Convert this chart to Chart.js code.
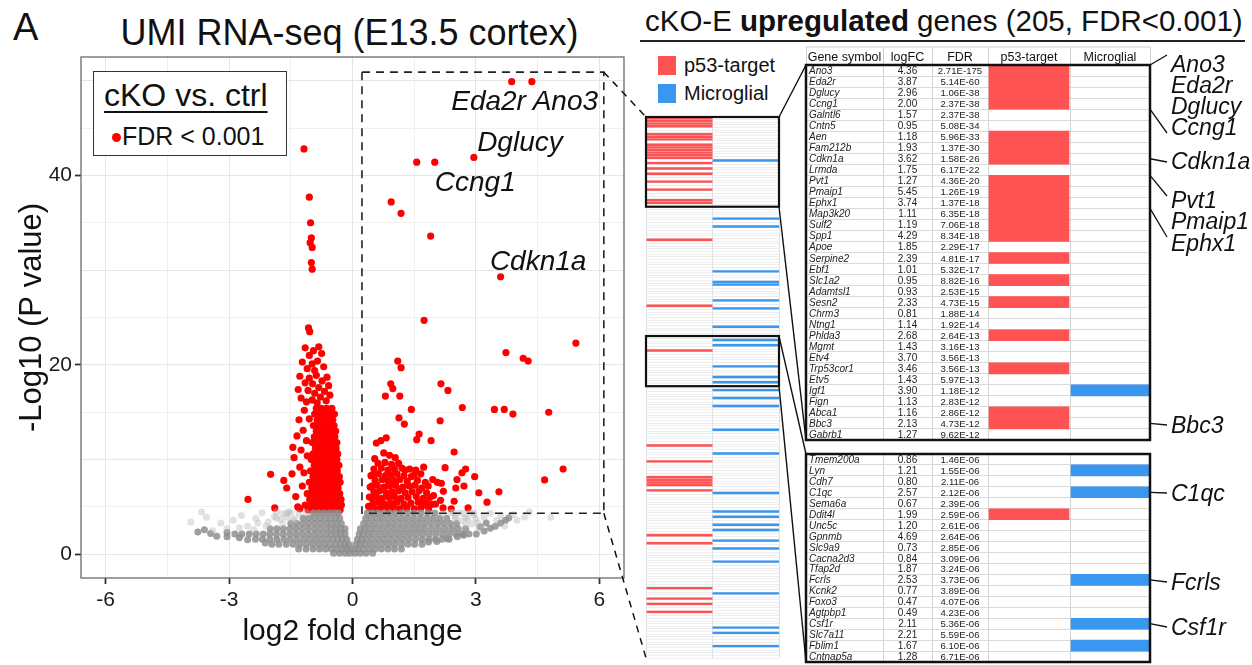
<!DOCTYPE html>
<html><head><meta charset="utf-8">
<script src="https://cdn.jsdelivr.net/npm/chart.js@4.4.1/dist/chart.umd.min.js"></script>
<style>
html,body{margin:0;padding:0;background:#fff;}
body{width:1252px;height:665px;position:relative;overflow:hidden;font-family:"Liberation Sans",Arial,sans-serif;color:#111;}
.abs{position:absolute;white-space:nowrap;}
canvas{position:absolute;}
</style></head><body>

<script>
// ================= DATA =================
// Volcano plot axis ticks
const xTickValues = [-6, -4.5, -3, -1.5, 0, 1.5, 3, 4.5, 6];
const xTickLabels = ['-6', '', '-3', '', '0', '', '3', '', '6'];
const yTickValues = [0, 5, 10, 15, 20, 25, 30, 35, 40, 45, 50];
const yTickLabels = ['0', '', '', '', '20', '', '', '', '40', '', ''];

// significant (FDR < 0.001) genes, up-regulated side: [log2FC, -log10 P]
const sigUp = [
 [4.36,49.9],[3.87,49.9],[2.95,41.9],[1.56,41.4],[2.00,41.4],
 [0.94,37.2],[1.18,36.0],[1.90,33.6],[3.60,29.3],[1.74,24.7],
 [5.43,22.3],[3.73,21.3],[4.15,20.7],[4.27,20.4],[1.10,20.4],[1.18,19.7],
 [2.15,18.0],[0.93,18.0],[0.98,17.5],[0.80,16.7],[1.15,16.7],[2.32,17.3],
 [1.43,15.3],[2.67,15.5],[3.45,15.3],[3.69,15.3],[3.90,14.8],[4.77,15.0],
 [1.13,14.4],[1.26,13.75],[2.13,14.1],[1.62,12.7],[1.56,12.1],[1.91,12.0],
 [2.47,10.8],[0.58,11.75],[0.69,12.0],[0.82,12.3],
 [5.12,9.0],[4.67,7.85],[3.56,6.6],[3.27,5.5],[3.07,6.5],[2.81,4.9],[2.97,8.2],
 [2.75,9.0],[2.66,8.6],[2.54,7.9],[2.51,7.0],[2.71,7.2],[2.47,5.6],[2.25,9.15],
 [2.16,7.5],[2.21,6.65],[2.06,7.6],[1.95,7.9],[1.84,7.2],[1.73,9.2],[1.54,8.9],
 [1.43,8.2],[1.28,8.9],[1.04,10.2],[0.90,10.45],[0.76,10.7],[0.54,10.1],[0.45,8.3],
 [0.43,7.1],[0.41,6.05],[0.39,5.07],[1.71,5.17],[1.93,5.28],[2.14,5.7],[1.97,6.2],
 [0.62,9.6],[0.79,9.7],[0.95,9.5],[1.12,9.6],
 [0.52,9.0],[0.70,9.1],[0.86,8.9],[1.02,9.0],[1.20,9.1],[1.39,9.0],
 [0.49,8.4],[0.63,8.5],[0.80,8.3],[0.93,8.4],[1.08,8.5],[1.25,8.3],[1.50,8.4],[1.66,8.5],
 [0.55,7.8],[0.72,7.9],[0.87,7.7],[1.00,7.8],[1.15,7.9],[1.33,7.7],[1.58,7.8],[1.77,7.6],
 [0.47,7.2],[0.60,7.3],[0.76,7.1],[0.90,7.2],[1.05,7.3],[1.22,7.1],[1.38,7.2],[1.52,7.3],[1.68,7.0],
 [0.52,6.6],[0.66,6.7],[0.82,6.5],[0.97,6.6],[1.12,6.7],[1.28,6.5],[1.45,6.6],[1.62,6.7],[1.80,6.5],
 [0.45,6.0],[0.58,6.1],[0.72,5.9],[0.88,6.0],[1.02,6.1],[1.18,5.9],[1.35,6.0],[1.55,6.1],[1.72,5.9],[1.88,6.0],
 [0.50,5.4],[0.64,5.5],[0.78,5.3],[0.93,5.4],[1.08,5.5],[1.25,5.3],[1.42,5.4],[1.60,5.5],[1.80,5.4],[2.02,5.3],
 [0.42,4.9],[0.56,4.8],[0.70,4.9],[0.86,4.8],[1.00,4.9],[1.15,4.8],[1.32,4.9],[1.50,4.8],[1.66,4.9],[1.85,4.8],[2.20,4.9],[2.40,4.8]
];
// significant genes, down-regulated side (scattered)
const sigDown = [
 [-1.18,42.8],[-1.05,37.7],[-1.02,35.0],[-1.00,33.4],[-1.03,32.9],[-0.98,32.4],[-1.00,30.8],[-0.98,30.1],[-1.07,23.9],[-1.04,23.5],
 [-1.15,21.8],[-0.95,21.5],[-0.82,21.9],[-1.05,21.0],[-0.75,21.2],[-1.22,20.3],[-0.98,20.1],[-0.85,20.4],[-0.70,19.8],[-1.10,19.6],
 [-0.92,19.4],[-1.28,18.8],[-1.05,18.6],[-0.88,18.9],[-0.74,18.3],[-0.62,18.7],[-0.97,18.0],[-1.15,18.1],[-1.32,17.4],[-0.82,17.6],
 [-0.68,17.2],[-0.92,17.0],[-1.08,17.3],[-0.58,17.8],[-1.25,16.5],[-0.98,16.3],[-0.78,16.6],[-0.64,16.2],[-0.86,16.0],[-0.55,16.8],[-1.12,16.1],
 [-1.99,8.44],[-2.54,5.8],[-1.89,4.9],[-1.67,7.8],[-1.60,7.0],[-1.47,8.5],[-1.35,12.5],[-1.30,14.2],[-1.42,10.2],[-1.25,11.0],
 [-1.38,6.1],[-1.28,9.2],[-1.20,13.1],[-1.33,5.0],[-1.22,7.2],[-1.17,15.2],[-1.12,12.0],[-1.28,4.8],[-1.45,11.3],[-1.18,8.6],[-1.10,10.4],[-1.05,14.3]
];
// significant genes, dense down-regulated core: [ -log10 P, [log2FC ...] ]
const sigDownCoreRows = [
 [15.4,[-0.88,-0.76,-0.63,-0.50]],
 [14.8,[-0.92,-0.80,-0.68,-0.55,-0.44]],
 [14.2,[-0.86,-0.73,-0.60,-0.48]],
 [13.6,[-0.95,-0.82,-0.70,-0.57,-0.45]],
 [13.0,[-0.88,-0.76,-0.64,-0.52,-0.41]],
 [12.4,[-0.93,-0.80,-0.67,-0.55,-0.43]],
 [11.8,[-0.98,-0.85,-0.72,-0.60,-0.47,-0.38]],
 [11.2,[-0.90,-0.78,-0.65,-0.52,-0.40]],
 [10.6,[-0.96,-0.83,-0.70,-0.58,-0.45,-0.36]],
 [10.0,[-1.00,-0.88,-0.75,-0.62,-0.50,-0.38]],
 [9.4,[-0.93,-0.80,-0.68,-0.55,-0.42,-0.33]],
 [8.8,[-1.02,-0.89,-0.76,-0.63,-0.50,-0.37]],
 [8.2,[-0.96,-0.83,-0.70,-0.57,-0.44,-0.32]],
 [7.6,[-1.05,-0.92,-0.79,-0.66,-0.53,-0.40,-0.30]],
 [7.0,[-0.99,-0.86,-0.73,-0.60,-0.47,-0.35]],
 [6.4,[-1.10,-0.97,-0.84,-0.71,-0.58,-0.45,-0.31]],
 [5.8,[-1.04,-0.91,-0.78,-0.65,-0.52,-0.39,-0.28]],
 [5.2,[-1.15,-1.01,-0.88,-0.75,-0.62,-0.49,-0.36,-0.27]],
 [4.7,[-1.08,-0.95,-0.82,-0.69,-0.56,-0.43,-0.30]]
];
// non-significant genes, dense cloud: [ -log10 P, [log2FC ...] ]
const nsDenseRows = [
 [4.35,[-0.95,-0.82,-0.69,-0.56,-0.44,-0.34,0.36,0.49,0.62,0.76,0.90,1.04,1.19,1.34,1.50,1.66,1.83,2.00]],
 [3.8,[-1.20,-1.06,-0.92,-0.79,-0.66,-0.53,-0.41,-0.31,0.32,0.45,0.59,0.73,0.88,1.03,1.18,1.33,1.48,1.64,1.80,1.96,2.12,2.29]],
 [3.25,[-1.50,-1.35,-1.20,-1.06,-0.92,-0.78,-0.64,-0.51,-0.39,-0.27,0.27,0.39,0.53,0.68,0.83,0.98,1.13,1.28,1.43,1.58,1.73,1.89,2.05,2.21,2.37,2.53]],
 [2.7,[-2.00,-1.84,-1.68,-1.52,-1.37,-1.22,-1.07,-0.92,-0.78,-0.64,-0.51,-0.39,-0.28,-0.18,0.19,0.30,0.43,0.57,0.72,0.87,1.02,1.17,1.32,1.47,1.62,1.77,1.93,2.09,2.25,2.41,2.57,2.75]],
 [2.15,[-2.86,-2.69,-2.51,-2.34,-2.17,-2.01,-1.85,-1.69,-1.53,-1.38,-1.23,-1.08,-0.93,-0.79,-0.65,-0.52,-0.40,-0.29,-0.18,0.16,0.26,0.38,0.51,0.66,0.81,0.96,1.11,1.26,1.41,1.56,1.71,1.87,2.03,2.19,2.35,2.51,2.67,2.83,3.01]],
 [1.6,[-2.36,-2.19,-2.01,-1.84,-1.67,-1.51,-1.35,-1.19,-1.04,-0.89,-0.75,-0.61,-0.48,-0.36,-0.25,-0.14,0.12,0.22,0.34,0.47,0.62,0.77,0.92,1.07,1.22,1.37,1.53,1.69,1.85,2.01,2.17,2.35]],
 [1.05,[-1.96,-1.79,-1.61,-1.44,-1.28,-1.12,-0.97,-0.82,-0.68,-0.54,-0.41,-0.29,-0.18,-0.09,0.08,0.18,0.30,0.44,0.58,0.73,0.88,1.03,1.19,1.35,1.51,1.69]],
 [0.55,[-1.31,-1.13,-0.96,-0.80,-0.65,-0.51,-0.38,-0.26,-0.15,-0.05,0.05,0.15,0.27,0.41,0.55,0.70,0.86,1.02,1.19]],
 [0.1,[-0.46,-0.31,-0.18,-0.07,0.06,0.19,0.33,0.49]]
];
// non-significant genes along the outer edge of the cloud
const nsEdge = [
 [-2.12,1.2],[-2.55,1.55],[-2.75,1.75],[-3.05,1.85],[-3.3,1.9],[-3.45,2.2],[-3.6,2.6],[-3.76,2.35],[-3.05,2.3],
 [3.2,2.45],[3.35,2.75],[3.47,2.95],[3.6,3.3],[3.72,3.6],[3.8,3.85],[3.1,2.9],[3.25,3.3],[2.55,1.85],[2.7,2.0],
 [1.85,1.3],[2.05,1.35],[2.3,1.65]
];
// non-significant genes, sparse halo
const nsLight = [
 [-1.70,4.3],[-1.50,4.35],[-1.30,4.3],[-1.12,4.4],[2.20,4.3],[2.45,4.35],[2.70,4.3],[2.95,4.4],
 [-1.85,3.8],[-1.60,3.85],[-1.40,3.75],[2.50,3.8],[2.75,3.85],[3.00,3.75],
 [-3.93,3.4],[-3.67,4.46],[-3.55,3.9],[-3.2,3.3],[-2.9,3.6],[-2.7,4.1],[-2.55,3.0],[-2.35,3.8],[-2.2,4.4],
 [-2.05,3.4],[-1.9,4.0],[-1.75,3.7],[-1.6,4.3],[-2.4,2.6],[-2.75,2.8],[-3.05,2.7],[-3.4,2.5],[-1.55,4.5],
 [-1.85,4.5],[-2.1,3.0],[-1.7,3.2],[-2.3,3.3],[-1.45,3.6],
 [3.05,3.3],[3.2,3.9],[3.35,4.3],[3.6,4.1],[3.9,4.2],[4.18,3.94],[4.3,4.5],[4.82,3.9],[2.8,3.7],[2.95,4.2],
 [2.6,4.4],[2.75,3.1],[3.7,3.0],[4.0,3.6],[2.5,4.0],[3.5,3.6],[2.9,3.2],[3.1,2.7],[2.65,3.55],[2.85,4.4],[2.4,4.45]
];
// labelled genes on the volcano plot
const volcanoLabels = [
 {text:'Eda2r Ano3', x:5.97, y:46.9, anchor:'end'},
 {text:'Dglucy', x:3.03, y:42.6, anchor:'start'},
 {text:'Ccng1', x:2.0, y:38.4, anchor:'start'},
 {text:'Cdkn1a', x:3.34, y:30.0, anchor:'start'}
];
// zoomed region (dashed box) in data units
const zoomBox = {x0:0.23, x1:6.11, y0:4.33, y1:50.9};

// Strip of all 205 up-regulated genes (rank order, 0 = top)
const stripCount = 205;
const stripP53Rows = [0,1,2,3,6,7,8,10,11,12,13,14,15,17,19,21,24,27,31,32,46,71,88,124,130,136,137,138,139,141,158,161,178,182,184,187];
const stripMicroRows = [16,38,41,58,62,63,69,72,79,84,86,94,98,100,103,106,109,118,127,142,149,151,154,156,160,163,168,180,193,195,200];
const stripBoxes = [[0,33],[83,101]];

// Tables
const tableHeaders = ['Gene symbol','logFC','FDR','p53-target','Microglial'];
const upperGenes = ['Ano3','Eda2r','Dglucy','Ccng1','Galntl6','Cntn5','Aen','Fam212b','Cdkn1a','Lrmda','Pvt1','Pmaip1','Ephx1','Map3k20','Sulf2','Spp1','Apoe','Serpine2','Ebf1','Slc1a2','Adamtsl1','Sesn2','Chrm3','Ntng1','Phlda3','Mgmt','Etv4','Trp53cor1','Etv5','Igf1','Fign','Abca1','Bbc3','Gabrb1'];
const upperLogFC = ['4.36','3.87','2.96','2.00','1.57','0.95','1.18','1.93','3.62','1.75','1.27','5.45','3.74','1.11','1.19','4.29','1.85','2.39','1.01','0.95','0.93','2.33','0.81','1.14','2.68','1.43','3.70','3.46','1.43','3.90','1.13','1.16','2.13','1.27'];
const upperFDR = ['2.71E-175','5.14E-60','1.06E-38','2.37E-38','2.37E-38','5.08E-34','5.96E-33','1.37E-30','1.58E-26','6.17E-22','4.36E-20','1.26E-19','1.37E-18','6.35E-18','7.06E-18','8.34E-18','2.29E-17','4.81E-17','5.32E-17','8.82E-16','2.53E-15','4.73E-15','1.88E-14','1.92E-14','2.64E-13','3.16E-13','3.56E-13','3.56E-13','5.97E-13','1.18E-12','2.83E-12','2.86E-12','4.73E-12','9.62E-12'];
const upperP53 = [0,1,2,3,6,7,8,10,11,12,13,14,15,17,19,21,24,27,31,32];
const upperMicro = [29];
const lowerGenes = ['Tmem200a','Lyn','Cdh7','C1qc','Sema6a','Ddit4l','Unc5c','Gpnmb','Slc9a9','Cacna2d3','Tfap2d','Fcrls','Kcnk2','Foxo3','Agtpbp1','Csf1r','Slc7a11','Fblim1','Cntnap5a'];
const lowerLogFC = ['0.86','1.21','0.80','2.57','0.67','1.99','1.20','4.69','0.73','0.84','1.87','2.53','0.77','0.47','0.49','2.11','2.21','1.67','1.28'];
const lowerFDR = ['1.46E-06','1.55E-06','2.11E-06','2.12E-06','2.39E-06','2.59E-06','2.61E-06','2.64E-06','2.85E-06','3.09E-06','3.24E-06','3.73E-06','3.89E-06','4.07E-06','4.23E-06','5.36E-06','5.59E-06','6.10E-06','6.71E-06'];
const lowerP53 = [5];
const lowerMicro = [1,3,11,15,17];

// Callout labels beside the tables
const upperCallouts = ['Ano3','Eda2r','Dglucy','Ccng1','Cdkn1a','Pvt1','Pmaip1','Ephx1','Bbc3'];
const lowerCallouts = ['C1qc','Fcrls','Csf1r'];
</script>

<div class="abs" style="left:13px;top:8px;font-size:38px;line-height:38px;">A</div>
<div class="abs" style="left:78px;width:543px;top:15px;text-align:center;font-size:36px;line-height:36px;">UMI RNA-seq (E13.5 cortex)</div>
<div class="abs" style="left:645px;top:6px;font-size:29.5px;line-height:29.5px;">cKO-E <b>upregulated</b> genes (205, FDR&lt;0.001)</div>
<div class="abs" style="left:640px;top:40px;width:605px;height:1.5px;background:#222;"></div>

<canvas id="volcano" width="640" height="665" style="left:0;top:0;"></canvas>

<div class="abs" style="left:93px;top:71px;width:194px;height:85px;border:1.5px solid #333;box-sizing:border-box;background:#fff;">
  <div class="abs" style="left:10px;top:7px;font-size:32px;line-height:32px;text-decoration:underline;text-decoration-thickness:2px;text-underline-offset:5px;">cKO vs. ctrl</div>
  <div class="abs" style="left:18px;top:61px;width:9px;height:9px;border-radius:50%;background:#ff0000;"></div>
  <div class="abs" style="left:28px;top:52px;font-size:25px;line-height:25px;">FDR &lt; 0.001</div>
</div>

<div class="abs" style="left:658px;top:56px;width:18px;height:19px;background:#ff5252;"></div>
<div class="abs" style="left:684px;top:55px;font-size:20px;line-height:20px;">p53-target</div>
<div class="abs" style="left:658px;top:84px;width:18px;height:19px;background:#3a97ef;"></div>
<div class="abs" style="left:684px;top:83px;font-size:20px;line-height:20px;">Microglial</div>

<canvas id="strip" width="139" height="547" style="left:643px;top:114px;"></canvas>
<canvas id="upper" width="356" height="400" style="left:800px;top:45px;"></canvas>
<canvas id="lower" width="356" height="216" style="left:800px;top:449px;"></canvas>

<script>
const FONT = '"Liberation Sans", Arial, sans-serif';
const RED = '#ff5252', BLUE = '#3a97ef';
const tableColEdges = [0, 77, 126, 182, 264, 344];
const OFF = {volcano:{left:0, top:0}, strip:{left:643, top:114}, upper:{left:800, top:45}, lower:{left:800, top:449}};

const pts = arr => arr.map(([x, y]) => ({x, y}));
const rowsToPts = rows => rows.flatMap(([y, xs]) => xs.map(x => ({x, y})));

// ---------- Volcano ----------
const volcanoPlugin = {
  id: 'volcanoDeco',
  afterDraw(chart) {
    const {ctx, chartArea: a, scales: {x, y}} = chart;
    ctx.save();
    ctx.strokeStyle = '#6b6b6b'; ctx.lineWidth = 1.3;
    ctx.strokeRect(a.left, a.top, a.right - a.left, a.bottom - a.top);
    ctx.setLineDash([8, 6]); ctx.strokeStyle = '#222'; ctx.lineWidth = 1.6;
    ctx.strokeRect(x.getPixelForValue(zoomBox.x0), y.getPixelForValue(zoomBox.y1),
      x.getPixelForValue(zoomBox.x1) - x.getPixelForValue(zoomBox.x0),
      y.getPixelForValue(zoomBox.y0) - y.getPixelForValue(zoomBox.y1));
    ctx.restore();
  }
};
const volcano = new Chart(document.getElementById('volcano'), {
  type: 'scatter',
  data: {datasets: [
    {label: 'ns halo', data: pts(nsLight), backgroundColor: 'rgba(180,180,180,0.4)', borderWidth: 0, pointRadius: 3.5},
    {label: 'ns', data: rowsToPts(nsDenseRows).concat(pts(nsEdge)), backgroundColor: 'rgba(142,142,142,0.85)', borderWidth: 0, pointRadius: 3.5},
    {label: 'FDR < 0.001', data: pts(sigDown).concat(rowsToPts(sigDownCoreRows), pts(sigUp)), backgroundColor: '#ff0000', borderWidth: 0, pointRadius: 3.6}
  ]},
  options: {
    responsive: false, animation: false, events: [],
    layout: {padding: {top: 57, right: 16, left: 0, bottom: 0}},
    plugins: {legend: {display: false}, tooltip: {enabled: false}},
    scales: {
      x: {
        type: 'linear', min: -6.6, max: 6.6,
        afterBuildTicks(s) { s.ticks = xTickValues.map(v => ({value: v})); },
        afterFit(s) { s.height = 87; },
        ticks: {autoSkip: false, maxRotation: 0, padding: 4, color: '#1a1a1a', font: {size: 21, family: FONT},
          callback: (v, i) => xTickLabels[i]},
        grid: {color: c => (xTickLabels[c.index] ? '#e6e6e6' : '#f0f0f0'), lineWidth: 1, tickLength: 6,
          tickColor: c => (xTickLabels[c.index] ? '#333' : 'rgba(0,0,0,0)'), tickWidth: 1.8},
        border: {display: false},
        title: {display: true, text: 'log2 fold change', color: '#111', font: {size: 30, family: FONT}, padding: {top: 0, bottom: 15}}
      },
      y: {
        type: 'linear', min: -2.5, max: 52.5,
        afterBuildTicks(s) { s.ticks = yTickValues.map(v => ({value: v})); },
        afterFit(s) { s.width = 81; },
        ticks: {autoSkip: false, padding: 3, color: '#1a1a1a', font: {size: 21, family: FONT},
          callback: (v, i) => yTickLabels[i]},
        grid: {color: c => (yTickValues[c.index] % 10 === 0 ? '#e6e6e6' : '#f0f0f0'), lineWidth: 1, tickLength: 6,
          tickColor: c => (yTickLabels[c.index] ? '#333' : 'rgba(0,0,0,0)'), tickWidth: 1.8},
        border: {display: false},
        title: {display: true, text: '-Log10 (P value)', color: '#111', font: {size: 31, family: FONT}, padding: {top: 14, bottom: 0}}
      }
    }
  },
  plugins: [volcanoPlugin]
});

// ---------- Strip ----------
const stripRanks = Array.from({length: stripCount}, (_, i) => String(i + 1));
const stripPlugin = {
  id: 'stripBoxes',
  afterDraw(chart) {
    const {ctx, chartArea: a, scales: {y}} = chart;
    const h = (y.bottom - y.top) / stripCount;
    ctx.save(); ctx.strokeStyle = '#111'; ctx.lineWidth = 2.2;
    stripBoxes.forEach(([r0, r1]) => {
      const t = y.getPixelForValue(r0) - h / 2, b = y.getPixelForValue(r1) + h / 2;
      ctx.strokeRect(a.left, t, a.right - a.left, b - t);
    });
    ctx.restore();
  }
};
const strip = new Chart(document.getElementById('strip'), {
  type: 'bar',
  data: {labels: stripRanks, datasets: [
    {label: 'p53-target', data: stripRanks.map((_, i) => stripP53Rows.includes(i) ? [0, 1] : null), backgroundColor: RED, grouped: false, categoryPercentage: 1, barPercentage: 0.9},
    {label: 'Microglial', data: stripRanks.map((_, i) => stripMicroRows.includes(i) ? [1, 2] : null), backgroundColor: BLUE, grouped: false, categoryPercentage: 1, barPercentage: 0.9}
  ]},
  options: {
    indexAxis: 'y', responsive: false, animation: false, events: [],
    layout: {padding: 3},
    plugins: {legend: {display: false}, tooltip: {enabled: false}},
    scales: {
      x: {type: 'linear', min: 0, max: 2, afterBuildTicks(s) { s.ticks = [{value: 0}, {value: 1}, {value: 2}]; },
        afterFit(s) { s.height = 0; }, ticks: {display: false}, grid: {color: '#dde2e8', drawTicks: false}, border: {display: false}},
      y: {type: 'category', afterFit(s) { s.width = 0; }, ticks: {display: false, autoSkip: false},
        grid: {offset: true, color: '#e6e6e6', lineWidth: 0.7, drawTicks: false}, border: {display: false}}
    }
  },
  plugins: [stripPlugin]
});

// ---------- Tables ----------
function makeTable(id, genes, p53, micro, padding, withHeader) {
  const plugin = {
    id: 'tableDeco' + id,
    afterDraw(chart) {
      const {ctx, chartArea: a, scales: {x}} = chart;
      ctx.save();
      if (withHeader) {
        ctx.strokeStyle = '#cfcfcf'; ctx.lineWidth = 1;
        ctx.beginPath(); ctx.moveTo(a.left, a.top - 18); ctx.lineTo(a.right, a.top - 18); ctx.stroke();
        tableColEdges.forEach(v => { const px = Math.round(x.getPixelForValue(v)) + 0.5; ctx.beginPath(); ctx.moveTo(px, a.top - 18); ctx.lineTo(px, a.top); ctx.stroke(); });
      }
      ctx.strokeStyle = '#111'; ctx.lineWidth = 2.5;
      ctx.strokeRect(a.left, a.top, a.right - a.left, a.bottom - a.top);
      ctx.restore();
    }
  };
  return new Chart(document.getElementById(id), {
    type: 'bar',
    data: {labels: genes, datasets: [
      {label: 'p53-target', data: genes.map((_, i) => p53.includes(i) ? [tableColEdges[3] + 1, tableColEdges[4] - 1] : null), backgroundColor: RED, grouped: false, categoryPercentage: 1, barPercentage: 1},
      {label: 'Microglial', data: genes.map((_, i) => micro.includes(i) ? [tableColEdges[4] + 1, tableColEdges[5]] : null), backgroundColor: BLUE, grouped: false, categoryPercentage: 1, barPercentage: 1}
    ]},
    options: {
      indexAxis: 'y', responsive: false, animation: false, events: [],
      layout: {padding: padding},
      plugins: {legend: {display: false}, tooltip: {enabled: false}},
      scales: {
        x: {type: 'linear', min: 0, max: 344, afterBuildTicks(s) { s.ticks = tableColEdges.map(v => ({value: v})); },
          afterFit(s) { s.height = 0; }, ticks: {display: false}, grid: {color: '#d2d2d2', drawTicks: false}, border: {display: false}},
        y: {type: 'category', afterFit(s) { s.width = 0; }, ticks: {display: false, autoSkip: false},
          grid: {offset: true, color: '#d9d9d9', lineWidth: 1, drawTicks: false}, border: {display: false}}
      }
    },
    plugins: [plugin]
  });
}
const upper = makeTable('upper', upperGenes, upperP53, upperMicro, {left: 6, right: 6, top: 20, bottom: 5}, true);
const lower = makeTable('lower', lowerGenes, lowerP53, lowerMicro, {left: 6, right: 6, top: 5, bottom: 3}, false);

// ---------- SVG overlay: text and connectors ----------
const NS = 'http://www.w3.org/2000/svg';
const svg = document.createElementNS(NS, 'svg');
svg.setAttribute('width', 1252); svg.setAttribute('height', 665);
svg.style.cssText = 'position:absolute;left:0;top:0;pointer-events:none;';
document.body.appendChild(svg);
function line(x1, y1, x2, y2, w, dash) {
  const l = document.createElementNS(NS, 'line');
  l.setAttribute('x1', x1); l.setAttribute('y1', y1); l.setAttribute('x2', x2); l.setAttribute('y2', y2);
  l.setAttribute('stroke', '#111'); l.setAttribute('stroke-width', w);
  if (dash) l.setAttribute('stroke-dasharray', dash);
  svg.appendChild(l);
}
function text(t, x, y, size, opts = {}) {
  const e = document.createElementNS(NS, 'text');
  e.setAttribute('x', x); e.setAttribute('y', y);
  e.setAttribute('font-family', 'Liberation Sans, Arial, sans-serif');
  e.setAttribute('font-size', size);
  e.setAttribute('fill', opts.fill || '#111');
  if (opts.italic) e.setAttribute('font-style', 'italic');
  if (opts.anchor) e.setAttribute('text-anchor', opts.anchor);
  e.textContent = t; svg.appendChild(e);
}

// volcano gene labels
volcanoLabels.forEach(l => {
  text(l.text, OFF.volcano.left + volcano.scales.x.getPixelForValue(l.x), OFF.volcano.top + volcano.scales.y.getPixelForValue(l.y), 28, {italic: true, anchor: l.anchor});
});

// strip geometry
const sy = strip.scales.y, sH = (sy.bottom - sy.top) / stripCount;
const stripLeft = OFF.strip.left + strip.chartArea.left, stripRight = OFF.strip.left + strip.chartArea.right;
const stripRowTop = r => OFF.strip.top + sy.getPixelForValue(r) - sH / 2;
const stripRowBottom = r => OFF.strip.top + sy.getPixelForValue(r) + sH / 2;

// dashed connectors volcano -> strip
const bx = OFF.volcano.left + volcano.scales.x.getPixelForValue(zoomBox.x1);
line(bx, OFF.volcano.top + volcano.scales.y.getPixelForValue(zoomBox.y1), stripLeft, stripRowTop(0), 1.5, '7 6');
line(bx, OFF.volcano.top + volcano.scales.y.getPixelForValue(zoomBox.y0), stripLeft, stripRowBottom(stripCount - 1), 1.5, '7 6');

// table texts
function tableText(chart, off, genes, logfc, fdr, withHeader) {
  const {x, y} = chart.scales;
  const colC = k => off.left + x.getPixelForValue((tableColEdges[k] + tableColEdges[k + 1]) / 2);
  if (withHeader) tableHeaders.forEach((h, k) => text(h, colC(k), off.top + chart.chartArea.top - 4.5, 12.5, {anchor: 'middle'}));
  genes.forEach((g, i) => {
    const cy = off.top + y.getPixelForValue(i) + 3.5;
    text(g, off.left + x.getPixelForValue(0) + 3, cy, 10, {italic: true, fill: '#222'});
    text(logfc[i], colC(1), cy, 10, {anchor: 'middle', fill: '#222'});
    text(fdr[i], colC(2), cy, 9.6, {anchor: 'middle', fill: '#222'});
  });
}
tableText(upper, OFF.upper, upperGenes, upperLogFC, upperFDR, true);
tableText(lower, OFF.lower, lowerGenes, lowerLogFC, lowerFDR, false);

// strip -> table connectors
const uA = upper.chartArea, lA = lower.chartArea;
const tLeft = OFF.upper.left + uA.left, tRight = OFF.upper.left + uA.right;
line(stripRight, stripRowTop(stripBoxes[0][0]), tLeft, OFF.upper.top + uA.top, 1.4);
line(stripRight, stripRowBottom(stripBoxes[0][1]), tLeft, OFF.upper.top + uA.bottom, 1.4);
line(stripRight, stripRowTop(stripBoxes[1][0]), tLeft, OFF.lower.top + lA.top, 1.4);
line(stripRight, stripRowBottom(stripBoxes[1][1]), tLeft, OFF.lower.top + lA.bottom, 1.4);

// callouts beside tables
const rowPx = (chart, off, i, k) => { const y = chart.scales.y; const h = (y.bottom - y.top) / y.ticks.length; return off.top + y.getPixelForValue(i) + k * h / 2; };
const ui = g => upperGenes.indexOf(g), li = g => lowerGenes.indexOf(g);
const LX = 1171, LL = 1167;
const upperBaselines = {Ano3: 72, Eda2r: 93, Dglucy: 114, Ccng1: 135, Cdkn1a: 169, Pvt1: 208, Pmaip1: 229, Ephx1: 251, Bbc3: 433};
upperCallouts.forEach(g => text(g, LX, upperBaselines[g], 23, {italic: true}));
line(tRight, rowPx(upper, OFF.upper, ui('Ano3'), -1), LL, 55, 1.3);
line(tRight, rowPx(upper, OFF.upper, ui('Ccng1'), 1), LL, 133, 1.3);
line(tRight, rowPx(upper, OFF.upper, ui('Cdkn1a'), 0), LL, 162, 1.3);
line(tRight, rowPx(upper, OFF.upper, ui('Pvt1'), -1), LL, 196, 1.3);
line(tRight, rowPx(upper, OFF.upper, ui('Ephx1'), 1), LL, 237, 1.3);
line(tRight, rowPx(upper, OFF.upper, ui('Bbc3'), 0), LL, 425, 1.3);
const lowerBaselines = {C1qc: 501, Fcrls: 590, Csf1r: 635};
lowerCallouts.forEach(g => {
  text(g, LX, lowerBaselines[g], 23, {italic: true});
  line(tRight, rowPx(lower, OFF.lower, li(g), 0), LL, lowerBaselines[g] - 8, 1.3);
});
</script>
</body></html>
